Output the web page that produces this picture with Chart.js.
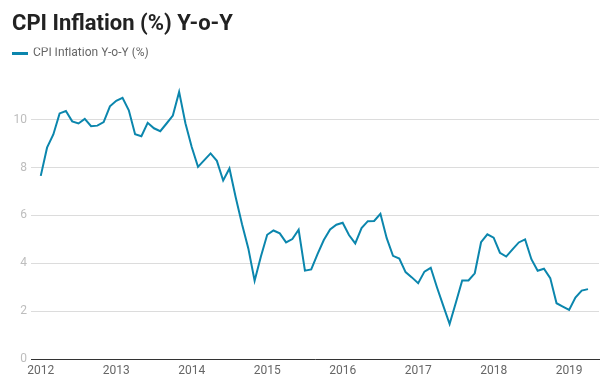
<!DOCTYPE html>
<html>
<head>
<meta charset="utf-8">
<script src="https://cdn.jsdelivr.net/npm/chart.js@4/dist/chart.umd.min.js"></script>
<style>
  html, body { margin: 0; padding: 0; background: #fff; }
  #wrap { width: 610px; height: 389px; }
</style>
</head>
<body>
<div id="wrap"><canvas id="cpiChart" width="610" height="389"></canvas></div>
<script>
// monthly CPI inflation, Jan 2012 .. Apr 2019
const years = ['2012', '2013', '2014', '2015', '2016', '2017', '2018', '2019'];
const cpi = [
  7.65, 8.83, 9.38, 10.26, 10.36, 9.93, 9.84, 10.03, 9.73, 9.75, 9.90, 10.56,
  10.79, 10.91, 10.39, 9.39, 9.31, 9.87, 9.64, 9.52, 9.84, 10.17, 11.16, 9.85,
  8.86, 8.03, 8.31, 8.59, 8.28, 7.46, 7.96, 6.75, 5.63, 4.62, 3.27, 4.28,
  5.19, 5.37, 5.25, 4.87, 5.01, 5.40, 3.69, 3.74, 4.38, 4.97, 5.41, 5.61,
  5.69, 5.18, 4.83, 5.47, 5.76, 5.77, 6.07, 5.05, 4.31, 4.20, 3.63, 3.41,
  3.17, 3.65, 3.81, 2.99, 2.22, 1.46, 2.36, 3.28, 3.28, 3.58, 4.88, 5.21,
  5.07, 4.44, 4.28, 4.58, 4.87, 5.00, 4.17, 3.69, 3.77, 3.38, 2.33, 2.19,
  2.05, 2.57, 2.86, 2.92
];
const yTicks = [0, 2, 4, 6, 8, 10];

const lineColor = '#0b86ad';

const ctx = document.getElementById('cpiChart').getContext('2d');
const cpiChart = new Chart(ctx, {
  type: 'line',
  data: {
    datasets: [{
      label: 'CPI Inflation Y-o-Y (%)',
      data: cpi.map((v, i) => ({ x: i, y: v })),
      borderColor: lineColor,
      backgroundColor: lineColor,
      borderWidth: 2,
      pointRadius: 0,
      tension: 0
    }]
  },
  options: {
    responsive: false,
    maintainAspectRatio: false,
    animation: false,
    layout: { padding: { left: 12, right: 11, top: 0, bottom: 0 } },
    plugins: {
      title: {
        display: true,
        text: 'CPI Inflation (%) Y-o-Y',
        align: 'start',
        color: '#222',
        font: { family: 'Roboto', size: 22, weight: 'bold' },
        padding: { top: 11, bottom: 10 }
      },
      legend: {
        position: 'top',
        align: 'start',
        labels: {
          boxWidth: 15,
          boxHeight: 1,
          padding: 0,
          color: '#666',
          font: { family: 'Roboto', size: 12 }
        }
      },
      tooltip: { enabled: false }
    },
    scales: {
      x: {
        type: 'linear',
        min: -1.55,
        max: 88.75,
        z: 1,
        afterBuildTicks: s => { s.ticks = years.map((y, i) => ({ value: i * 12 })); },
        afterFit: s => { s.height = 30; },
        grid: { display: true, drawOnChartArea: false, drawTicks: false },
        border: { display: true, color: '#333', width: 1 },
        ticks: {
          padding: 5,
          color: '#666',
          font: { family: 'Roboto', size: 12 },
          maxRotation: 0,
          callback: v => years[Math.round(v / 12)]
        }
      },
      y: {
        min: 0,
        max: 12.1,
        afterBuildTicks: s => { s.ticks = yTicks.map(v => ({ value: v })); },
        afterFit: s => { s.width = 19; },
        grid: { color: '#dcdcdc', drawTicks: false },
        border: { display: false },
        ticks: {
          padding: 4,
          color: '#bdbdbd',
          font: { family: 'Roboto', size: 12 }
        }
      }
    }
  }
});
</script>
</body>
</html>
